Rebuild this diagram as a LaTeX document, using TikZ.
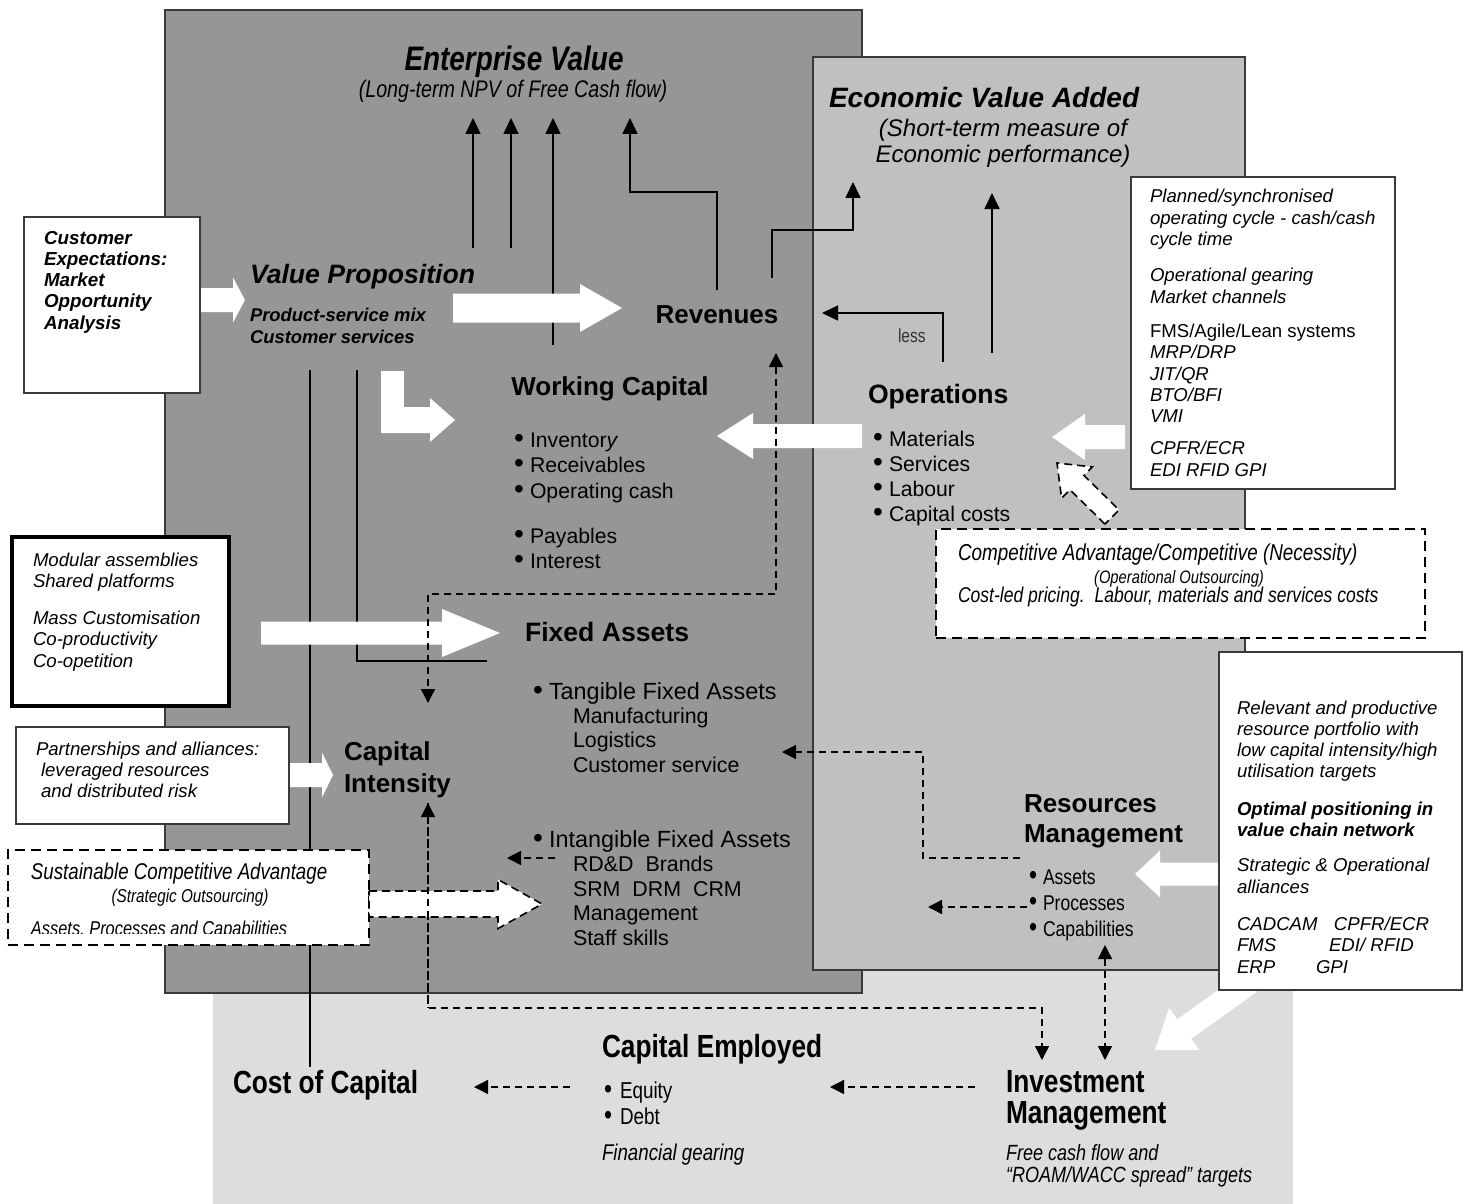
\documentclass[tikz,border=0pt]{standalone}
\usepackage{fontspec}
\setmainfont{Liberation Sans}
\newfontfamily\nfont{Liberation Sans}[FakeStretch=0.82]
\usetikzlibrary{arrows.meta,calc}

\definecolor{panelDark}{HTML}{969696}
\definecolor{panelMid}{HTML}{C0C0C0}
\definecolor{panelLight}{HTML}{DDDDDD}
\definecolor{edge}{HTML}{3A3A3A}

\newcommand\fsz[2]{\fontsize{#1}{#2}\selectfont}
\newcommand\tl[1]{\begin{tabular}[t]{@{}l@{}}#1\end{tabular}}
\newcommand\tc[1]{\begin{tabular}[t]{@{}c@{}}#1\end{tabular}}
\newcommand\bul[1][8pt]{\makebox[#1][l]{\fontsize{14}{14}\selectfont\textbullet}}

% block arrow: style, tail, tip, shaft half-width, head half-width, head length
\newcommand\blockarrow[6]{%
  \coordinate (baneck) at ($(#3)!#6!(#2)$);
  \path[#1] ($(#2)!#4!90:(#3)$) -- ($(baneck)!#4!90:(#3)$) -- ($(baneck)!#5!90:(#3)$) -- (#3)
    -- ($(baneck)!#5!-90:(#3)$) -- ($(baneck)!#4!-90:(#3)$) -- ($(#2)!#4!-90:(#3)$) -- cycle;}

\begin{document}
\begin{tikzpicture}[x=0.5pt, y=-0.5pt,
  every node/.style={inner sep=0pt, outer sep=0pt},
  lbl/.style={anchor=base west},
  conn/.style={line width=0.85pt, -{Triangle[length=8pt,width=7.5pt]}},
  link/.style={line width=0.85pt},
  dline/.style={line width=0.7pt, dash pattern=on 3.5pt off 2.5pt},
  dconn/.style={dline, -{Triangle[length=7pt,width=7pt]}},
  ddconn/.style={dline, {Triangle[length=7pt,width=7pt]}-{Triangle[length=7pt,width=7pt]}},
  whitearrow/.style={fill=white},
  dasharrow/.style={fill=white, draw=black, line width=0.8pt, dash pattern=on 4pt off 2.5pt},
  box/.style={draw=edge, line width=1pt, fill=white, anchor=north west},
  dashbox/.style={draw=black, line width=0.8pt, dash pattern=on 5pt off 3pt, fill=white, anchor=north west},
  panel/.style={draw=edge, line width=0.6pt, anchor=north west},
  head/.style={font=\bfseries\fsz{13}{16}},
  headit/.style={font=\bfseries\itshape\fsz{13.3}{16}},
  nhead/.style={font=\nfont\bfseries\fsz{16}{16}},
  item/.style={font=\fsz{10.6}{12.75}},
  boxtxt/.style={font=\itshape\fsz{9.3}{10.65}},
]
\useasboundingbox (0,0) rectangle (1468,1204);
\fill[white] (0,0) rectangle (1468,1204);

% ---------- panels ----------
\fill[panelLight] (213,955) rectangle (1293,1204);
\node[panel, fill=panelDark, minimum width=348.5pt, minimum height=491.5pt] (valuepanel) at (165,10) {};
\node[panel, fill=panelMid, minimum width=216pt, minimum height=456.5pt] (evapanel) at (813,57) {};

% ---------- named end points ----------
\coordinate (evA) at (473,118);  \coordinate (vpA) at (473,248);
\coordinate (evB) at (511,118);  \coordinate (vpB) at (511,248);
\coordinate (evC) at (553,118);  \coordinate (vpC) at (553,345);
\coordinate (evD) at (630,118);  \coordinate (revT) at (717,290);
\coordinate (revR) at (772,278); \coordinate (evaA) at (853,182);
\coordinate (opsT) at (992,353); \coordinate (evaB) at (992,193);
\coordinate (opsL) at (943,362); \coordinate (revE) at (822,313);
\coordinate (vpL) at (310,370);  \coordinate (cocT) at (310,1067);
\coordinate (vpM) at (357,370);  \coordinate (faL) at (487,661);
\coordinate (revB) at (776,353); \coordinate (ciT) at (428,703);
\coordinate (ciB) at (428,803);  \coordinate (imA) at (1042,1060);
\coordinate (capB) at (1105,945); \coordinate (imB) at (1105,1060);
\coordinate (rmA) at (1020,858); \coordinate (faR) at (782,752);
\coordinate (rmP) at (1027,907); \coordinate (rmPt) at (928,907);
\coordinate (ifaA) at (555,858); \coordinate (ifaT) at (507,858);
\coordinate (imL) at (975,1087); \coordinate (ceR) at (830,1087);
\coordinate (ceL) at (570,1087); \coordinate (cocR) at (474,1087);

% ---------- solid connectors ----------
\draw[conn] (vpA) -- (evA);
\draw[conn] (vpB) -- (evB);
\draw[conn] (vpC) -- (evC);
\draw[conn] (revT) -- (717,192) -- (630,192) -- (evD);
\draw[conn] (revR) -- (772,230) -- (853,230) -- (evaA);
\draw[conn] (opsT) -- (evaB);
\draw[conn] (opsL) -- (943,313) -- (revE);
\draw[link] (vpL) -- (cocT);
\draw[link] (vpM) -- (357,661) -- (faL);

% ---------- white block arrows ----------
\coordinate (ceA) at (200,300); \coordinate (vpIn) at (245,300);
\blockarrow{whitearrow}{ceA}{vpIn}{6pt}{11.25pt}{6pt}
\coordinate (vpOut) at (453,308); \coordinate (revIn) at (622,308);
\blockarrow{whitearrow}{vpOut}{revIn}{7.25pt}{12pt}{21pt}
\fill[white] (381,371) rectangle (404,433);
\coordinate (vpD) at (381,420); \coordinate (wcIn) at (455,420);
\blockarrow{whitearrow}{vpD}{wcIn}{6.5pt}{11pt}{12.5pt}
\coordinate (opsOut) at (862,436); \coordinate (wcR) at (717,436);
\blockarrow{whitearrow}{opsOut}{wcR}{6pt}{11.5pt}{18pt}
\coordinate (modOut) at (261,633); \coordinate (faIn) at (500,633);
\blockarrow{whitearrow}{modOut}{faIn}{5.75pt}{12pt}{29pt}
\coordinate (parOut) at (289,775); \coordinate (ciIn) at (333,775);
\blockarrow{whitearrow}{parOut}{ciIn}{6pt}{11.25pt}{5.5pt}
\coordinate (plOut) at (1125,437); \coordinate (opsIn) at (1052,437);
\blockarrow{whitearrow}{plOut}{opsIn}{6pt}{11.5pt}{16.5pt}
\coordinate (relOut) at (1218,874); \coordinate (rmIn) at (1135,874);
\blockarrow{whitearrow}{relOut}{rmIn}{5.75pt}{11.75pt}{12.5pt}
\coordinate (relDown) at (1250,982); \coordinate (imIn) at (1155,1050);
\blockarrow{whitearrow}{relDown}{imIn}{6pt}{13pt}{18pt}

% ---------- dashed connectors ----------
\draw[ddconn] (revB) -- (776,594) -- (428,594) -- (ciT);
\draw[ddconn] (ciB) -- (428,1008) -- (1042,1008) -- (imA);
\draw[ddconn] (capB) -- (imB);
\draw[dconn] (rmA) -- (923,858) -- (923,752) -- (faR);
\draw[dconn] (rmP) -- (rmPt);
\draw[dconn] (ifaA) -- (ifaT);
\draw[dconn] (imL) -- (ceR);
\draw[dconn] (ceL) -- (cocR);

% ---------- side boxes ----------
\node[box, minimum width=88pt, minimum height=88pt] (custbox) at (24,217) {};
\node[lbl, font=\bfseries\itshape\fsz{9.4}{10.65}] (custtxt) at (44,244)
  {\tl{Customer\\Expectations:\\Market\\Opportunity\\Analysis}};

\node[box, draw=black, line width=1.8pt, minimum width=108.5pt, minimum height=84.5pt] (modbox) at (12,537) {};
\node[lbl, boxtxt] (modtxt) at (33,566)
  {\tl{Modular assemblies\\Shared platforms\\[8pt]Mass Customisation\\Co-productivity\\Co-opetition}};

\node[box, minimum width=136.5pt, minimum height=48.5pt] (parbox) at (16,727) {};
\node[lbl, boxtxt] (partxt) at (36,755)
  {\tl{Partnerships and alliances:\\\hspace{2.5pt}leveraged resources\\\hspace{2.5pt}and distributed risk}};

\node[dashbox, minimum width=180.5pt, minimum height=47.5pt] (susbox) at (8,850) {};
\node[lbl, font=\nfont\itshape\fsz{11.4}{13}] (sustxt) at (31,879) {Sustainable Competitive Advantage};
\node[anchor=base, font=\nfont\itshape\fsz{9.3}{11}] (susout) at (190,902) {(Strategic Outsourcing)};
\begin{scope}
  \clip (10,852) rectangle (367,933);
  \node[lbl, font=\nfont\itshape\fsz{10}{12}] (susapc) at (31,935) {Assets, Processes and Capabilities};
\end{scope}
\coordinate (susOut) at (369,904); \coordinate (ifaIn) at (542,904);
\blockarrow{dasharrow}{susOut}{ifaIn}{6.5pt}{12.25pt}{22pt}
\draw[dline] (ciB) -- (428,1008);

\node[box, minimum width=132pt, minimum height=156pt] (planbox) at (1131,177) {};
\node[lbl, boxtxt] (plantxt) at (1150,203)
  {\tl{Planned/synchronised\\operating cycle - cash/cash\\cycle time\\[7.5pt]
  Operational gearing\\Market channels\\[6.5pt]
  \upshape FMS/Agile/Lean systems\\MRP/DRP\\JIT/QR\\BTO/BFI\\VMI\\[5.5pt]
  CPFR/ECR\\EDI RFID GPI}};

\node[dashbox, minimum width=244.5pt, minimum height=54.5pt] (compbox) at (936,529) {};
\node[lbl, font=\nfont\itshape\fsz{11.5}{13}] (comptxt) at (958,560) {Competitive Advantage/Competitive (Necessity)};
\node[anchor=base, font=\nfont\itshape\fsz{9}{11}] (compout) at (1179,583) {(Operational Outsourcing)};
\node[lbl, font=\nfont\itshape\fsz{10.7}{12}] (compcost) at (958,602) {Cost-led pricing.\ \ Labour, materials and services costs};
\coordinate (compOut) at (1112,517); \coordinate (opsIn2) at (1057,463);
\blockarrow{dasharrow}{compOut}{opsIn2}{5pt}{11pt}{14pt}

\node[box, minimum width=121.5pt, minimum height=169pt] (relbox) at (1219,652) {};
\node[lbl, boxtxt] (reltxt) at (1237,714)
  {\tl{Relevant and productive\\resource portfolio with\\low capital intensity/high\\utilisation targets\\[8pt]
  \bfseries Optimal positioning in\\\bfseries value chain network\\[7pt]
  Strategic \& Operational\\alliances\\[8pt]
  \makebox[48.5pt][l]{CADCAM}CPFR/ECR\\\makebox[46pt][l]{FMS}EDI/ RFID\\\makebox[39.5pt][l]{ERP}GPI}};

% ---------- enterprise value panel ----------
\node[anchor=base, font=\nfont\bfseries\itshape\fsz{17}{20}] (ev) at (514,71) {Enterprise Value};
\node[anchor=base, font=\nfont\itshape\fsz{12}{14}] (evsub) at (513,98) {(Long-term NPV of Free Cash flow)};
\node[lbl, headit] (vp) at (250,283) {Value Proposition};
\node[lbl, font=\bfseries\itshape\fsz{9.2}{11}] (vpsub) at (250,321) {\tl{Product-service mix\\Customer services}};
\node[anchor=base, head] (rev) at (717,323) {Revenues};
\node[anchor=base, head] (wc) at (610,395) {Working Capital};
\node[lbl, item] (wclist) at (514,447)
  {\tl{\bul Inventor\textit{y}\\\bul Receivables\\\bul Operating cash\\[9.75pt]\bul Payables\\\bul Interest}};
\node[lbl, font=\bfseries\fsz{13.3}{16}] (fa) at (525,641) {Fixed Assets};
\node[lbl, font=\fsz{11.7}{12.2}] (tfa) at (533,699)
  {\tl{\bul Tangible Fixed Assets\\\fsz{10.7}{12.2}\hspace{20pt}Manufacturing\\\fsz{10.7}{12.2}\hspace{20pt}Logistics\\\fsz{10.7}{12.2}\hspace{20pt}Customer service}};
\node[lbl, font=\fsz{11.7}{12.3}] (ifa) at (533,847)
  {\tl{\bul Intangible Fixed Assets\\\fsz{10.7}{12.3}\hspace{20pt}RD\&D\ \ Brands\\\fsz{10.7}{12.3}\hspace{20pt}SRM\ \ DRM\ \ CRM\\\fsz{10.7}{12.3}\hspace{20pt}Management\\\fsz{10.7}{12.3}\hspace{20pt}Staff skills}};
\node[lbl, font=\bfseries\fsz{13}{16}] (ci) at (344,760) {\tl{Capital\\Intensity}};

% ---------- economic value added panel ----------
\node[lbl, font=\bfseries\itshape\fsz{14}{16}] (eva) at (829,108) {Economic Value Added};
\node[anchor=base, font=\itshape\fsz{12}{13}] (evasub) at (1003,137) {\tc{(Short-term measure of\\Economic performance)}};
\node[lbl, font=\nfont\fsz{9.5}{11}, text=black!80] (less) at (898,342) {less};
\node[lbl, font=\bfseries\fsz{13.3}{16}] (ops) at (868,403) {Operations};
\node[lbl, font=\fsz{10.6}{12.65}] (opslist) at (873,446)
  {\tl{\bul Materials\\\bul Services\\\bul Labour\\\bul Capital costs}};
\node[lbl, font=\bfseries\fsz{13}{15}] (rm) at (1024,812) {\tl{Resources\\Management}};
\node[lbl, font=\nfont\fsz{10.7}{13.2}] (rmlist) at (1029,884)
  {\tl{\bul[7pt]Assets\\\bul[7pt]Processes\\\bul[7pt]Capabilities}};

% ---------- capital employed panel ----------
\node[lbl, nhead] (coc) at (233,1093) {Cost of Capital};
\node[lbl, nhead] (ce) at (602,1057) {Capital Employed};
\node[lbl, font=\nfont\fsz{11.5}{13}] (celist) at (604,1098) {\tl{\bul[8pt]Equity\\\bul[8pt]Debt}};
\node[lbl, font=\nfont\itshape\fsz{11.4}{13}] (fg) at (602,1160) {Financial gearing};
\node[lbl, font=\nfont\bfseries\fsz{16}{15.5}] (im) at (1006,1092) {\tl{Investment\\Management}};
\node[lbl, font=\nfont\itshape\fsz{11}{10.5}] (imtxt) at (1006,1160) {\tl{Free cash flow and\\“ROAM/WACC spread” targets}};
\end{tikzpicture}
\end{document}
